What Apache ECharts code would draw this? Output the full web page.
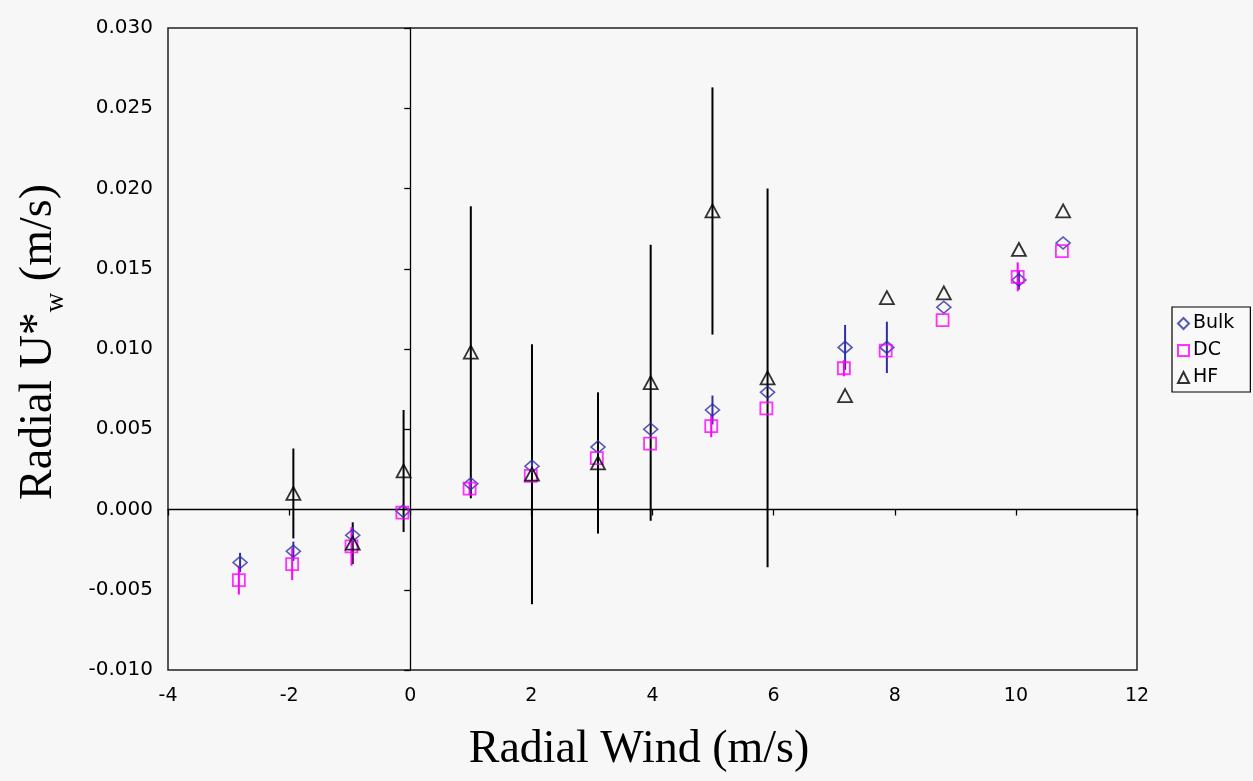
<!DOCTYPE html>
<html>
<head>
<meta charset="utf-8">
<script src="https://cdn.jsdelivr.net/npm/echarts@6/dist/echarts.min.js"></script>
<style>
  html, body { margin: 0; padding: 0; background: #f7f7f7; }
  #chart { width: 1253px; height: 781px; }
</style>
</head>
<body>
<div id="chart"></div>
<script>
// ---- data ----
const xTicksMin = -4, xTicksMax = 12, xTickStep = 2;
const yTicksMin = -0.010, yTicksMax = 0.030, yTickStep = 0.005;

const seriesNames = ['Bulk', 'DC', 'HF'];

const bulkX   = [-2.81, -1.93, -0.95, -0.12, 1.00, 2.01, 3.10, 3.97, 4.99, 5.90, 7.18, 7.87, 8.81, 10.05, 10.78];
const bulkY   = [-0.0033, -0.0026, -0.0016, -0.0001, 0.0016, 0.0027, 0.0039, 0.0050, 0.0062, 0.0073, 0.0101, 0.0101, 0.0126, 0.0143, 0.0166];
const bulkErr = [0.0006, 0.0006, 0.0005, 0, 0.0003, 0.0003, 0, 0, 0.0009, 0, 0.0014, 0.0016, 0, 0.0006, 0];

const dcX   = [-2.83, -1.95, -0.97, -0.13, 0.98, 1.99, 3.08, 3.96, 4.97, 5.88, 7.16, 7.85, 8.79, 10.03, 10.76];
const dcY   = [-0.0044, -0.0034, -0.0023, -0.0002, 0.0013, 0.0021, 0.0032, 0.0041, 0.0052, 0.0063, 0.0088, 0.0099, 0.0118, 0.0145, 0.0161];
const dcErr = [0.0009, 0.0010, 0.0012, 0, 0.0004, 0, 0, 0, 0.0007, 0, 0.0005, 0, 0, 0.0009, 0];

const hfX   = [-1.93, -0.95, -0.11, 1.00, 2.01, 3.10, 3.97, 4.99, 5.90, 7.18, 7.87, 8.81, 10.05, 10.78];
const hfY   = [0.0010, -0.0021, 0.0024, 0.0098, 0.0022, 0.0029, 0.0079, 0.0186, 0.0082, 0.0071, 0.0132, 0.0135, 0.0162, 0.0186];
const hfErr = [0.0028, 0.0013, 0.0038, 0.0091, 0.0081, 0.0044, 0.0086, 0.0077, 0.0118, 0, 0, 0, 0, 0];

const xTitle = 'Radial Wind (m/s)';
const yTitleRich = '{a|Radial U*}{s|w}{a| (m/s)}';

// ---- build ----
function pts(xs, ys) { return xs.map((x, i) => [x, ys[i]]); }
function errs(xs, ys, es) {
  const out = [];
  xs.forEach((x, i) => { if (es[i] > 0) out.push([x, ys[i] - es[i], ys[i] + es[i]]); });
  return out;
}
function errSeries(data, color, z) {
  return {
    type: 'custom', xAxisIndex: 0, yAxisIndex: 0, z: z, silent: true,
    data: data,
    encode: { x: 0, y: [1, 2] },
    renderItem: function (params, api) {
      const lo = api.coord([api.value(0), api.value(1)]);
      const hi = api.coord([api.value(0), api.value(2)]);
      return { type: 'line', shape: { x1: lo[0], y1: lo[1], x2: hi[0], y2: hi[1] },
               style: { stroke: color, lineWidth: 2 } };
    }
  };
}

const bulkColor = '#2e2ea6', dcColor = '#ff00ff', hfColor = '#000000';
const font = 'DejaVu Sans';

const chart = echarts.init(document.getElementById('chart'), null, { renderer: 'canvas' });
chart.setOption({
  backgroundColor: '#f7f7f7',
  animation: false,
  grid: { left: 168, right: 116, top: 28, bottom: 111, show: true, borderColor: '#222', borderWidth: 1.5, backgroundColor: 'transparent' },
  xAxis: [
    { type: 'value', min: xTicksMin, max: xTicksMax, interval: xTickStep, position: 'bottom',
      axisLine: { show: false, onZero: false }, axisTick: { show: false }, splitLine: { show: false },
      axisLabel: { fontFamily: font, fontSize: 19, color: '#000', margin: 17 } },
    { type: 'value', min: xTicksMin, max: xTicksMax, interval: xTickStep, position: 'top',
      axisLine: { show: true, onZero: true, onZeroAxisIndex: 0, lineStyle: { color: '#000', width: 1.3 } },
      axisTick: { show: true, inside: true, length: 6, lineStyle: { color: '#000', width: 1.3 } },
      axisLabel: { show: false }, splitLine: { show: false } }
  ],
  yAxis: [
    { type: 'value', min: yTicksMin, max: yTicksMax, interval: yTickStep, position: 'left',
      axisLine: { show: false, onZero: false }, axisTick: { show: false }, splitLine: { show: false },
      axisLabel: { fontFamily: font, fontSize: 20, color: '#000', margin: 15,
                   formatter: v => v.toFixed(3) } },
    { type: 'value', min: yTicksMin, max: yTicksMax, interval: yTickStep, position: 'right',
      axisLine: { show: true, onZero: true, onZeroAxisIndex: 0, lineStyle: { color: '#000', width: 1.3 } },
      axisTick: { show: true, inside: true, length: 6, lineStyle: { color: '#000', width: 1.3 } },
      axisLabel: { show: false }, splitLine: { show: false } }
  ],
  legend: {
    data: seriesNames, orient: 'vertical', left: 1172, top: 307,
    itemWidth: 11, itemHeight: 11, itemGap: 8,
    padding: [7, 16, 5, 5],
    borderColor: '#000', borderWidth: 1.2, backgroundColor: '#f9f9f9',
    textStyle: { fontFamily: font, fontSize: 19, color: '#000', padding: [0, 0, 0, -1] }
  },
  graphic: [
    { type: 'text', x: 639, y: 750, silent: true,
      style: { text: xTitle, font: '46px "Liberation Serif"', fill: '#000', align: 'center', verticalAlign: 'middle' } },
    { type: 'text', x: 39, y: 342, rotation: Math.PI / 2, silent: true,
      style: { text: yTitleRich, align: 'center', verticalAlign: 'middle', fill: '#000',
               rich: {
                 a: { fontFamily: 'Liberation Serif', fontSize: 46, lineHeight: 60, fill: '#000' },
                 s: { fontFamily: 'Liberation Serif', fontSize: 27, verticalAlign: 'top', padding: [34, 0, 0, 0], fill: '#000' }
               } } }
  ],
  series: [
    errSeries(errs(hfX, hfY, hfErr), hfColor, 2),
    errSeries(errs(bulkX, bulkY, bulkErr), bulkColor, 2),
    errSeries(errs(dcX, dcY, dcErr), dcColor, 2),
    { name: 'Bulk', type: 'scatter', xAxisIndex: 0, yAxisIndex: 0, z: 3,
      symbol: 'diamond', symbolSize: [14, 12], data: pts(bulkX, bulkY),
      itemStyle: { color: 'rgba(0,0,0,0)', borderColor: bulkColor, borderWidth: 1.6 } },
    { name: 'DC', type: 'scatter', xAxisIndex: 0, yAxisIndex: 0, z: 3,
      symbol: 'rect', symbolSize: 12, data: pts(dcX, dcY),
      itemStyle: { color: 'rgba(0,0,0,0)', borderColor: dcColor, borderWidth: 1.8 } },
    { name: 'HF', type: 'scatter', xAxisIndex: 0, yAxisIndex: 0, z: 3,
      symbol: 'triangle', symbolSize: [14, 13], data: pts(hfX, hfY),
      itemStyle: { color: 'rgba(0,0,0,0)', borderColor: hfColor, borderWidth: 1.8 } }
  ]
});
</script>
</body>
</html>
